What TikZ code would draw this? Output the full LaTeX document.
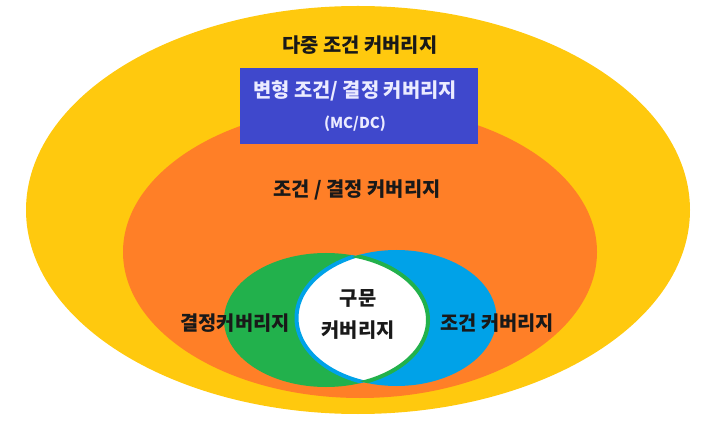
\documentclass[tikz,border=0pt]{standalone}
\usepackage{fontspec}
\newfontfamily\kofont{Noto Sans CJK KR}
\definecolor{cyellow}{HTML}{FFC90E}
\definecolor{corange}{HTML}{FF7F27}
\definecolor{cindigo}{HTML}{3F48CC}
\definecolor{cgreen}{HTML}{22B14C}
\definecolor{cblue}{HTML}{00A2E8}
\tikzset{
    lbl/.style={font=\kofont\bfseries\fontsize{19.8}{20}\selectfont, text=black!90, inner sep=0pt},
    boxlbl/.style={font=\kofont\bfseries\fontsize{19.8}{20}\selectfont, text=white!92!blue, inner sep=0pt},
}
\begin{document}
\begin{tikzpicture}[x=1pt,y=-1pt]
    \useasboundingbox (0,0) rectangle (712,430);

    \fill[cyellow] (358,210) ellipse [x radius=332, y radius=204];
    \fill[corange] (360,252) ellipse [x radius=237, y radius=146];
    \node[fill=cindigo, minimum width=238pt, minimum height=76pt, inner sep=0pt] (mcdc) at (359,106) {};

    \fill[cgreen] (326,320) ellipse [x radius=102, y radius=67];
    \fill[cblue] (396.5,318) ellipse [x radius=100, y radius=68];
    \begin{scope}
        \clip (326,320) ellipse [x radius=102, y radius=67];
        \filldraw[fill=white, draw=cblue, line width=4] (396.5,318) ellipse [x radius=100, y radius=68];
    \end{scope}
    \begin{scope}
        \clip (396.5,318) ellipse [x radius=100, y radius=68];
        \draw[cgreen, line width=4] (326,320) ellipse [x radius=102, y radius=67];
    \end{scope}

    \node[lbl] (lmcc) at (360,45) {다중 조건 커버리지};
    \node[boxlbl] (lmcdc) at (355,91) {변형 조건/ 결정 커버리지};
    \node[boxlbl, font=\kofont\bfseries\fontsize{15}{15}\selectfont] (lmcdcs) at (355,124) {(MC/DC)};
    \node[lbl] (lcdc) at (357,190) {조건 / 결정 커버리지};
    \node[lbl] (ldc) at (235,323) {결정커버리지};
    \node[lbl] (lcc) at (497,323) {조건 커버리지};
    \node[lbl] (lsc1) at (358,298) {구문};
    \node[lbl] (lsc2) at (358,330) {커버리지};
\end{tikzpicture}
\end{document}
